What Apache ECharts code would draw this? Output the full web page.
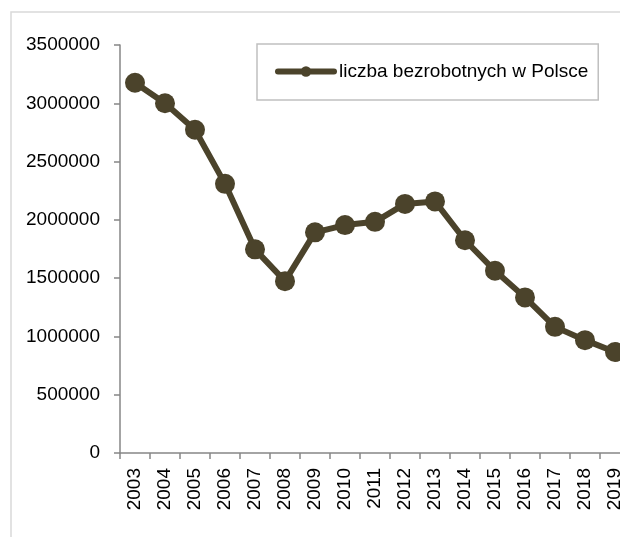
<!DOCTYPE html>
<html>
<head>
<meta charset="utf-8">
<script src="https://cdn.jsdelivr.net/npm/echarts@6/dist/echarts.min.js"></script>
<style>
  html, body { margin: 0; padding: 0; background: #fff; }
  #chart { width: 620px; height: 537px; }
</style>
</head>
<body>
<div id="chart"></div>
<script>
// lata i liczba bezrobotnych
const years = ["2003", "2004", "2005", "2006", "2007", "2008", "2009", "2010", "2011",
  "2012", "2013", "2014", "2015", "2016", "2017", "2018", "2019"];
const unemployed = [3176000, 3000000, 2773000, 2309000, 1747000, 1474000, 1893000, 1955000,
  1983000, 2137000, 2158000, 1825000, 1563000, 1335000, 1082000, 968000, 866000];
const seriesName = "liczba bezrobotnych w Polsce";

const fontFamily = "'Liberation Sans', Arial, sans-serif";
const lineColor = "#4b432b";
const axisColor = "#868686";

const chart = echarts.init(document.getElementById("chart"));
chart.setOption({
  animation: false,
  backgroundColor: "#fff",
  graphic: [{
    // ramka wykresu (ucięta z prawej i z dołu)
    type: "rect",
    shape: { x: 11, y: 12, width: 700, height: 600 },
    style: { fill: "none", stroke: "#d9d9d9", lineWidth: 1.5 },
    silent: true
  }],
  grid: {
    left: 120,
    top: 45,
    width: 510,
    bottom: 84,
    outerBoundsMode: "none"
  },
  legend: {
    left: 257,
    top: 44,
    data: [seriesName],
    itemWidth: 56,
    itemHeight: 13,
    itemGap: 5,
    padding: [18, 10, 19, 18],
    borderColor: "#c0c0c0",
    borderWidth: 1.5,
    lineStyle: { width: 6, cap: "round" },
    textStyle: { fontFamily: fontFamily, fontSize: 19, color: "#000" }
  },
  xAxis: {
    type: "category",
    data: years,
    boundaryGap: true,
    axisLine: { lineStyle: { color: axisColor, width: 1.5 } },
    axisTick: { show: true, length: 6, lineStyle: { color: axisColor, width: 1.5 } },
    axisLabel: {
      rotate: 90,
      interval: 0,
      margin: 15,
      fontFamily: fontFamily,
      fontSize: 19,
      color: "#000"
    },
    splitLine: { show: false }
  },
  yAxis: {
    type: "value",
    min: 0,
    max: 3500000,
    interval: 500000,
    axisLine: { show: true, lineStyle: { color: axisColor, width: 1.5 } },
    axisTick: { show: true, length: 6, lineStyle: { color: axisColor, width: 1.5 } },
    axisLabel: {
      margin: 20,
      fontFamily: fontFamily,
      fontSize: 19,
      color: "#000",
      formatter: (v) => String(v)
    },
    splitLine: { show: false }
  },
  series: [{
    name: seriesName,
    type: "line",
    data: unemployed,
    symbol: "circle",
    symbolSize: 20,
    itemStyle: { color: lineColor },
    lineStyle: { color: lineColor, width: 6 }
  }]
});
</script>
</body>
</html>
